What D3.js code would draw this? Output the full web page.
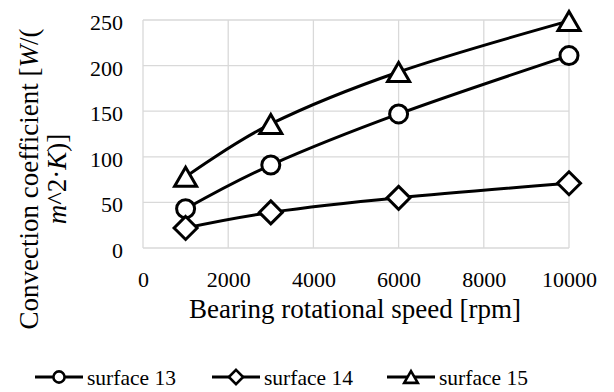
<!DOCTYPE html>
<html><head><meta charset="utf-8">
<script src="https://cdn.jsdelivr.net/npm/d3@7"></script>
<style>body{margin:0;background:#fff}svg{display:block}</style>
</head><body>
<svg id="c" width="614" height="392"></svg>
<script>
const speeds = [1000, 3000, 6000, 10000];
const surface13 = [43, 91, 147, 211];
const surface14 = [22, 39, 55, 71];
const surface15 = [78, 136, 193, 249];
const seriesNames = ["surface 13", "surface 14", "surface 15"];
const seriesShapes = ["circle", "diamond", "triangle"];
const xTicks = [0, 2000, 4000, 6000, 8000, 10000];
const yTicks = [0, 50, 100, 150, 200, 250];

const FONT = '"Liberation Serif"';
const svg = d3.select("#c");
const x = d3.scaleLinear().domain([0, 10000]).range([143, 569]);
const y = d3.scaleLinear().domain([0, 250]).range([248, 20]);

// gridlines
const g = svg.append("g");
g.selectAll(".hg").data(yTicks).join("line")
  .attr("x1", x(0)).attr("x2", x(10000)).attr("y1", d => y(d)).attr("y2", d => y(d))
  .attr("stroke", "#d9d9d9").attr("stroke-width", 1.3);
g.selectAll(".vg").data(xTicks).join("line")
  .attr("y1", y(0)).attr("y2", y(250)).attr("x1", d => x(d)).attr("x2", d => x(d))
  .attr("stroke", "#d9d9d9").attr("stroke-width", 1.3);

// axes tick labels via d3 axes
const xAxis = svg.append("g").attr("transform", `translate(0,${y(0)})`)
  .call(d3.axisBottom(x).tickValues(xTicks).tickSize(0).tickFormat(d3.format("d")));
const yAxis = svg.append("g").attr("transform", `translate(${x(0)},0)`)
  .call(d3.axisLeft(y).tickValues(yTicks).tickSize(0));
[xAxis, yAxis].forEach(a => {
  a.select(".domain").remove();
  a.selectAll("text").attr("fill", "#000").attr("font-family", FONT).attr("font-size", 22);
});
xAxis.selectAll("text").attr("y", 39).attr("dy", 0);
yAxis.selectAll("text").attr("x", -20).attr("dy", 9.5);

// axis titles
svg.append("text").attr("x", 355).attr("y", 318).attr("text-anchor", "middle")
  .attr("font-family", FONT).attr("font-size", 27).text("Bearing rotational speed [rpm]");

const yt = svg.append("g").attr("transform", "translate(0,179) rotate(-90)");
const l1 = yt.append("text").attr("x", 0).attr("y", 38).attr("text-anchor", "middle")
  .attr("font-family", FONT).attr("font-size", 27);
l1.append("tspan").text("Convection coefficient [");
l1.append("tspan").attr("font-style", "italic").text("W");
l1.append("tspan").text("/(");
const l2 = yt.append("text").attr("x", 0).attr("y", 66).attr("text-anchor", "middle")
  .attr("font-family", FONT).attr("font-size", 27);
l2.append("tspan").attr("font-style", "italic").text("m");
l2.append("tspan").text("^2·");
l2.append("tspan").attr("font-style", "italic").text("K");
l2.append("tspan").text(")]");

// marker drawer
function marker(sel, shape, s) {
  if (shape === "circle") {
    sel.append("circle").attr("r", 9 * s);
  } else if (shape === "diamond") {
    const r = 11.5 * s;
    sel.append("path").attr("d", `M0,${-r}L${r},0L0,${r}L${-r},0Z`);
  } else {
    const w = 11 * s, h = 19 * s;
    sel.append("path").attr("d", `M0,${-h/2}L${w},${h/2}L${-w},${h/2}Z`);
  }
}

const allSeries = [surface13, surface14, surface15];
const line = d3.line().x((d, i) => x(speeds[i])).y(d => y(d)).curve(d3.curveCardinal.tension(0));

allSeries.forEach(vals => {
  svg.append("path").datum(vals).attr("d", line)
    .attr("fill", "none").attr("stroke", "#000").attr("stroke-width", 3);
});
allSeries.forEach((vals, k) => {
  vals.forEach((v, i) => {
    const m = svg.append("g").attr("transform", `translate(${x(speeds[i])},${y(v)})`)
      .attr("fill", "#fff").attr("stroke", "#000").attr("stroke-width", 3);
    marker(m, seriesShapes[k], 1);
  });
});

// legend
const legX = [35, 212, 387];
seriesNames.forEach((name, k) => {
  const lg = svg.append("g").attr("transform", `translate(${legX[k]},377)`);
  lg.append("line").attr("x1", 0).attr("x2", 48).attr("y1", 0).attr("y2", 0)
    .attr("stroke", "#000").attr("stroke-width", 3);
  const m = lg.append("g").attr("transform", "translate(24,0)")
    .attr("fill", "#fff").attr("stroke", "#000").attr("stroke-width", 2.6);
  marker(m, seriesShapes[k], 0.62);
  lg.append("text").attr("x", 52).attr("y", 8).attr("font-family", FONT).attr("font-size", 21.5)
    .attr("fill", "#000").text(name);
});
</script>
</body></html>
